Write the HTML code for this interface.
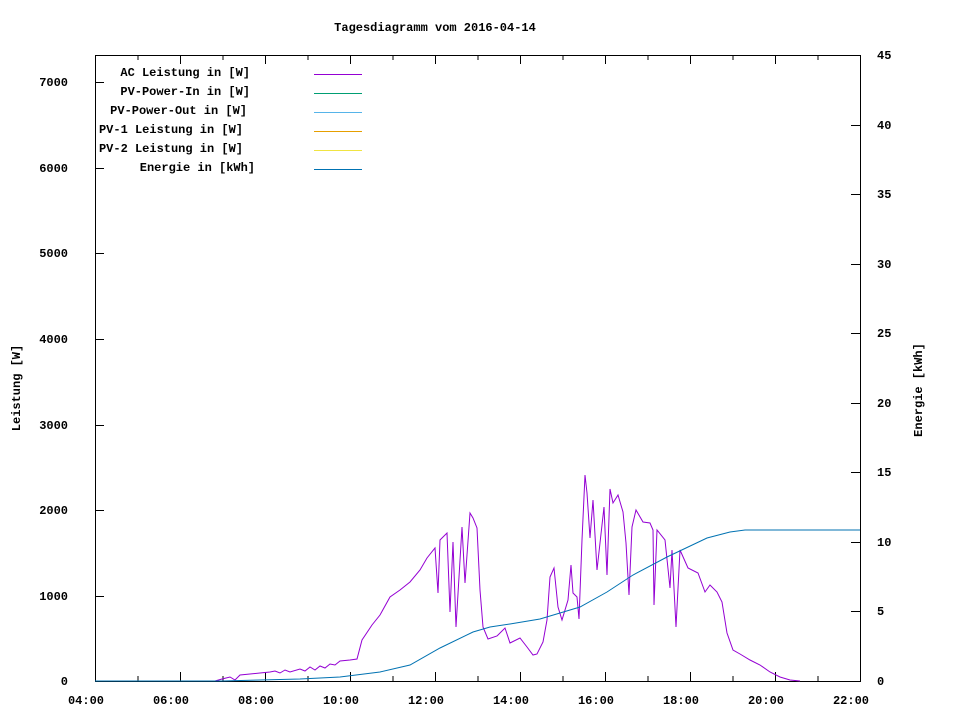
<!DOCTYPE html>
<html><head><meta charset="utf-8"><style>
body{margin:0;background:#fff;}
svg text{font-family:"Liberation Mono",monospace;font-size:12px;font-weight:bold;fill:#000;}
</style></head><body>
<svg width="960" height="720" viewBox="0 0 960 720" xmlns="http://www.w3.org/2000/svg">
<rect width="960" height="720" fill="#fff"/>
<text x="435" y="31" text-anchor="middle">Tagesdiagramm vom 2016-04-14</text>
<rect x="95.5" y="55.5" width="765" height="626" fill="none" stroke="#000" stroke-width="1"/>
<g stroke="#000" stroke-width="1">
<!-- left ticks -->
<line x1="95" y1="681.5" x2="104" y2="681.5"/><line x1="95" y1="596.5" x2="104" y2="596.5"/>
<line x1="95" y1="510.5" x2="104" y2="510.5"/><line x1="95" y1="425.5" x2="104" y2="425.5"/>
<line x1="95" y1="339.5" x2="104" y2="339.5"/><line x1="95" y1="253.5" x2="104" y2="253.5"/>
<line x1="95" y1="168.5" x2="104" y2="168.5"/><line x1="95" y1="82.5" x2="104" y2="82.5"/>
<!-- right ticks -->
<line x1="851" y1="681.5" x2="860" y2="681.5"/><line x1="851" y1="611.5" x2="860" y2="611.5"/>
<line x1="851" y1="542.5" x2="860" y2="542.5"/><line x1="851" y1="472.5" x2="860" y2="472.5"/>
<line x1="851" y1="403.5" x2="860" y2="403.5"/><line x1="851" y1="333.5" x2="860" y2="333.5"/>
<line x1="851" y1="264.5" x2="860" y2="264.5"/><line x1="851" y1="194.5" x2="860" y2="194.5"/>
<line x1="851" y1="125.5" x2="860" y2="125.5"/><line x1="851" y1="55.5" x2="860" y2="55.5"/>
</g>
<g stroke="#000" stroke-width="1" id="xt"></g>
<g text-anchor="end">
<text x="68" y="685">0</text><text x="68" y="600">1000</text><text x="68" y="514">2000</text>
<text x="68" y="429">3000</text><text x="68" y="343">4000</text><text x="68" y="257">5000</text>
<text x="68" y="172">6000</text><text x="68" y="86">7000</text>
</g>
<g text-anchor="start">
<text x="877" y="685">0</text><text x="877" y="615">5</text><text x="877" y="546">10</text>
<text x="877" y="476">15</text><text x="877" y="407">20</text><text x="877" y="337">25</text>
<text x="877" y="268">30</text><text x="877" y="198">35</text><text x="877" y="129">40</text>
<text x="877" y="59">45</text>
</g>
<g text-anchor="middle">
<text x="86" y="704">04:00</text><text x="171" y="704">06:00</text><text x="256" y="704">08:00</text>
<text x="341" y="704">10:00</text><text x="426" y="704">12:00</text><text x="511" y="704">14:00</text>
<text x="596" y="704">16:00</text><text x="681" y="704">18:00</text><text x="766" y="704">20:00</text>
<text x="851" y="704">22:00</text>
</g>
<text transform="translate(20,388) rotate(-90)" text-anchor="middle">Leistung [W]</text>
<text transform="translate(922,390) rotate(-90)" text-anchor="middle">Energie [kWh]</text>
<g text-anchor="end">
<text x="250" y="76">AC Leistung in [W]</text>
<text x="250" y="95">PV-Power-In in [W]</text>
<text x="247" y="114">PV-Power-Out in [W]</text>
<text x="243" y="133">PV-1 Leistung in [W]</text>
<text x="243" y="152">PV-2 Leistung in [W]</text>
<text x="255" y="171">Energie in [kWh]</text>
</g>
<g stroke-width="1">
<line x1="314" y1="74.5" x2="362" y2="74.5" stroke="#9400d3"/>
<line x1="314" y1="93.5" x2="362" y2="93.5" stroke="#009e73"/>
<line x1="314" y1="112.5" x2="362" y2="112.5" stroke="#56b4e9"/>
<line x1="314" y1="131.5" x2="362" y2="131.5" stroke="#e69f00"/>
<line x1="314" y1="150.5" x2="362" y2="150.5" stroke="#f0e442"/>
<line x1="314" y1="169.5" x2="362" y2="169.5" stroke="#0072b2"/>
</g>
<polyline fill="none" stroke="#9400d3" stroke-width="1" points="95,681 215,681 222,679 230,677 235,680 240,675 250,674 260,673 270,672 275,671 280,673 285,670 290,672 300,669 305,671 310,667 315,670 320,666 325,668 330,664 335,665 340,661 350,660 357,659 362,640 372,625 380,615 390,597 400,590 410,582 420,570 427,558 435,548 438,593 440,540 447,533 450,612 453,542 456,627 462,527 465,583 470,513 473,518 477,528 480,590 483,627 488,639 497,636 505,628 510,643 520,638 527,647 533,655 537,654 543,642 547,620 550,577 554,568 558,607 562,620 568,600 571,565 573,593 577,597 579,619 582,540 585,475 587,493 590,538 593,500 597,570 600,543 604,507 607,575 610,489 613,503 618,495 623,512 626,543 629,595 632,527 636,510 643,522 650,523 653,530 654,605 657,530 665,540 670,588 672,550 676,627 680,550 688,568 698,573 705,592 710,585 717,592 722,602 727,633 733,650 740,654 750,660 760,665 770,672 780,677 790,680 800,681"/>
<polyline fill="none" stroke="#0072b2" stroke-width="1" points="95,681 222,681 260,680 300,679 340,677 380,672 410,665 440,648 473,632 490,627 510,624 540,619 560,613 580,607 607,592 633,575 667,557 707,538 730,532 745,530 860,530"/>
</svg>
<script>
var g=document.getElementById('xt'),s='';
for(var i=0;i<=18;i++){var x=95.5+42.5*i;var l=(i%2==0)?9:5;
s+='<line x1="'+x+'" y1="681" x2="'+x+'" y2="'+(681-l)+'"/><line x1="'+x+'" y1="55" x2="'+x+'" y2="'+(55+l)+'"/>';}
g.innerHTML=s;
</script>
</body></html>
